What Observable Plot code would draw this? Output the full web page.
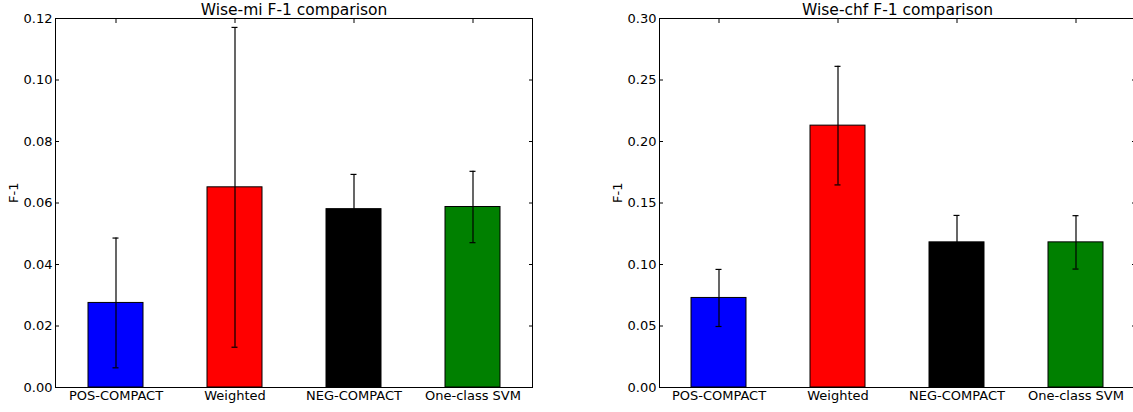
<!DOCTYPE html>
<html>
<head>
<meta charset="utf-8">
<script src="https://cdn.jsdelivr.net/npm/d3@7"></script>
<script src="https://cdn.jsdelivr.net/npm/@observablehq/plot@0.6"></script>
<style>
  html, body { margin: 0; padding: 0; background: #fff; overflow: hidden; }
  #wrap { position: relative; width: 1133px; height: 412px; overflow: hidden; }
  #left, #right { position: absolute; top: 0; height: 412px; }
  #left { left: 0; width: 560px; }
  #right { left: 560px; width: 580px; }
  #wrap svg { max-width: none !important; overflow: visible; }
</style>
</head>
<body>
<div id="wrap"><div id="left"></div><div id="right"></div></div>
<script>
const categories = ["POS-COMPACT", "Weighted", "NEG-COMPACT", "One-class SVM"];
const barColors = ["blue", "red", "black", "green"];
const miValues = [0.0275, 0.0651, 0.0580, 0.0587];
const miErrors = [0.0211, 0.0520, 0.0113, 0.0116];
const chfValues = [0.0728, 0.2129, 0.1180, 0.1180];
const chfErrors = [0.0232, 0.0482, 0.0219, 0.0217];
const miTicks = [0, 0.02, 0.04, 0.06, 0.08, 0.10, 0.12];
const chfTicks = [0, 0.05, 0.10, 0.15, 0.20, 0.25, 0.30];
const miTitle = "Wise-mi F-1 comparison";
const chfTitle = "Wise-chf F-1 comparison";
const yLabel = "F-1";

function panel({values, errors, ticks, title, width, marginLeft, marginRight}) {
  const data = categories.map((c, i) => ({cat: c, v: values[i], e: errors[i], color: barColors[i]}));
  const ymax = ticks[ticks.length - 1];
  return Plot.plot({
    width, height: 412,
    marginTop: 18, marginBottom: 25, marginLeft, marginRight,
    style: {fontFamily: "DejaVu Sans", fontSize: "13px", color: "black", background: "white", overflow: "visible"},
    x: {type: "band", domain: categories, paddingInner: 0.54, paddingOuter: 0.27, align: 0.5, label: null},
    y: {domain: [0, ymax], label: null},
    color: {type: "identity"},
    marks: [
      // inward ticks on all four sides
      Plot.axisY(ticks, {anchor: "left", tickSize: 4, dx: 4, text: null, label: null, stroke: "black"}),
      Plot.axisY(ticks, {anchor: "right", tickSize: 4, dx: -4, text: null, label: null, stroke: "black"}),
      Plot.axisX({anchor: "top", tickSize: 4, dy: 4, text: null, label: null, stroke: "black"}),
      Plot.axisX({anchor: "bottom", tickSize: 4, dy: -4, text: null, label: null, stroke: "black"}),
      // tick labels
      Plot.axisY(ticks, {anchor: "left", tickSize: 0, tickPadding: 3, tickFormat: d3.format(".2f"), label: null, fill: "black", fontSize: 13}),
      Plot.axisX({anchor: "bottom", tickSize: 0, tickPadding: 3, label: null, fill: "black", fontSize: 13}),
      // bars
      Plot.barY(data, {x: "cat", y: "v", fill: "color", stroke: "black", strokeWidth: 1}),
      // error bars
      Plot.ruleX(data, {x: "cat", y1: d => d.v - d.e, y2: d => d.v + d.e, stroke: "black", strokeWidth: 1.2}),
      Plot.tickY(data, {x: "cat", y: d => d.v + d.e, stroke: "black", strokeWidth: 1.2, insetLeft: 24.5, insetRight: 24.5}),
      Plot.tickY(data, {x: "cat", y: d => d.v - d.e, stroke: "black", strokeWidth: 1.2, insetLeft: 24.5, insetRight: 24.5}),
      Plot.frame({stroke: "black", strokeWidth: 1}),
      // title and y label
      Plot.text([title], {frameAnchor: "top", dy: -4, lineAnchor: "bottom", fontSize: 15.5, fill: "black", text: d => d}),
      Plot.text([yLabel], {frameAnchor: "left", rotate: -90, dx: -42, fontSize: 13, fill: "black", text: d => d})
    ]
  });
}

document.getElementById("left").appendChild(panel({
  values: miValues, errors: miErrors, ticks: miTicks, title: miTitle,
  width: 560, marginLeft: 55, marginRight: 28
}));
document.getElementById("right").appendChild(panel({
  values: chfValues, errors: chfErrors, ticks: chfTicks, title: chfTitle,
  width: 580, marginLeft: 99, marginRight: 5
}));
</script>
</body>
</html>
